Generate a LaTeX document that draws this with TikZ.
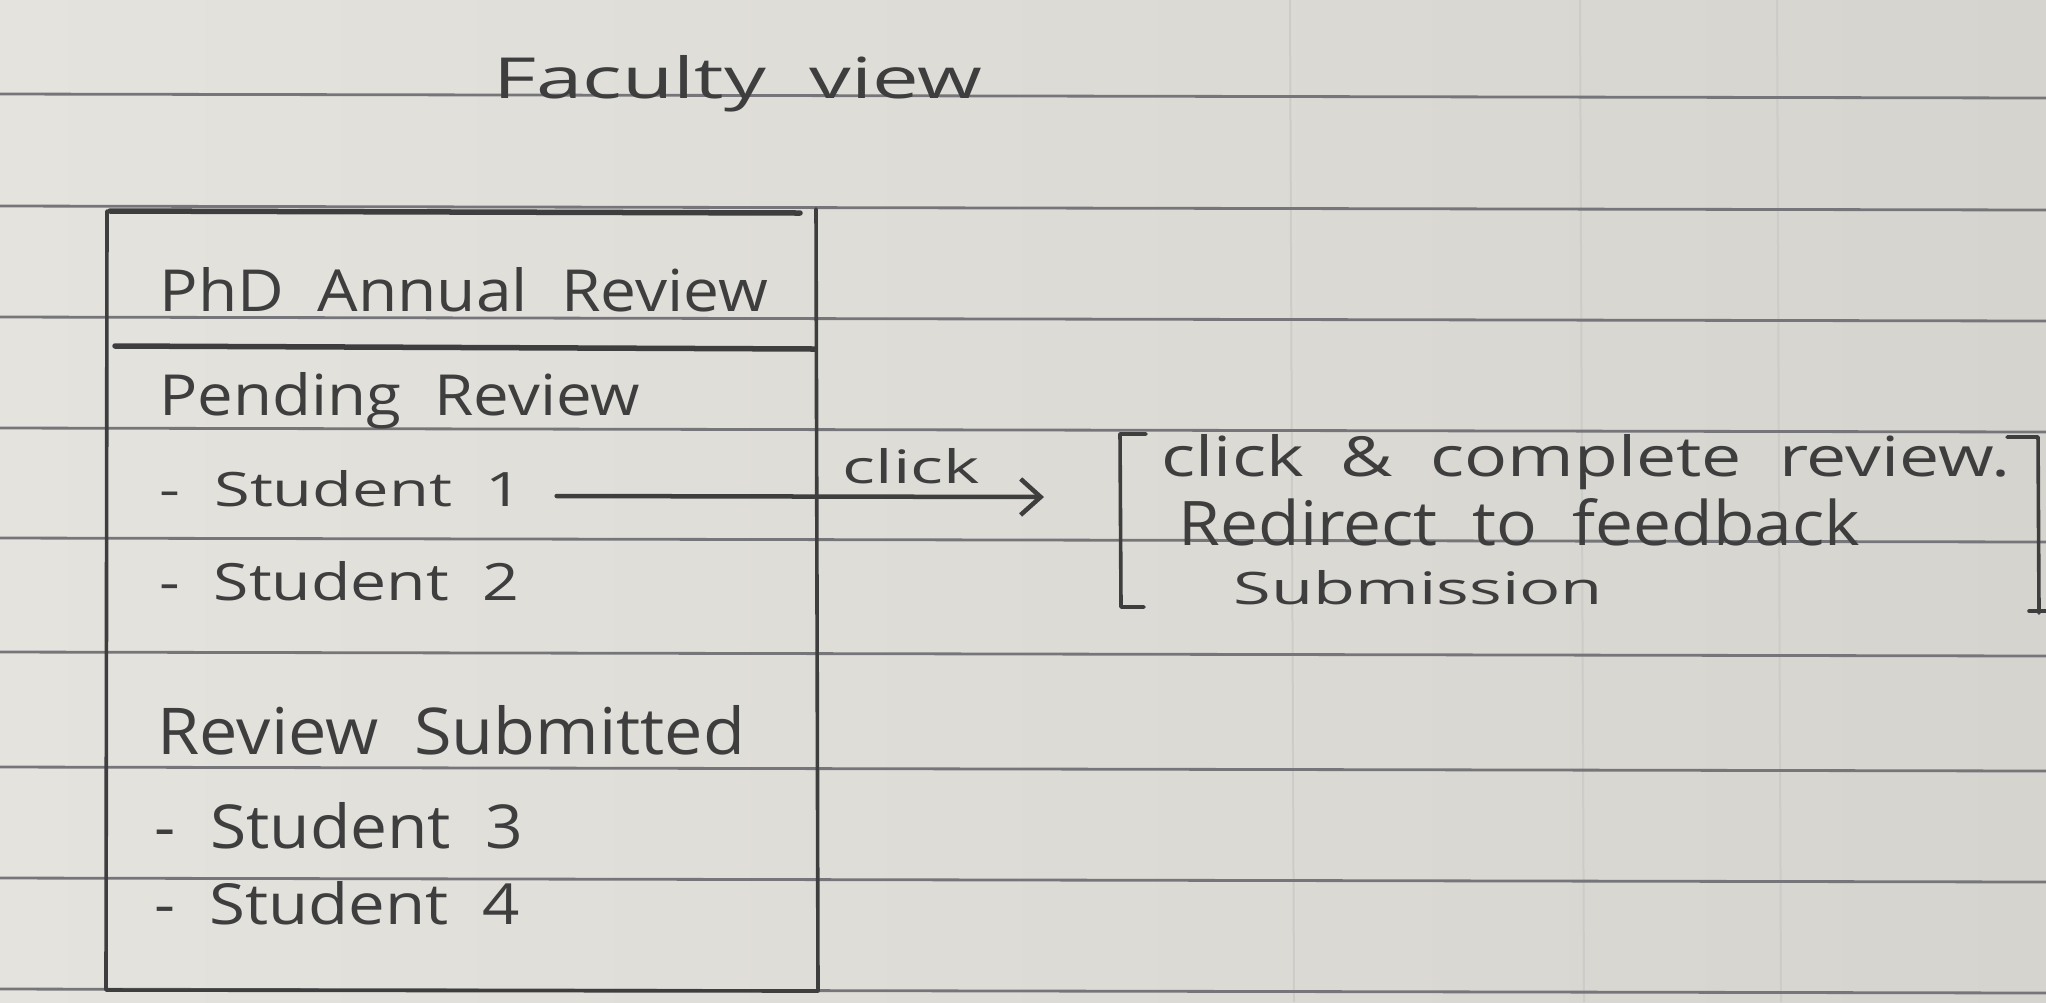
\documentclass[tikz,border=0pt]{standalone}
\usepackage{fontspec}
\setmainfont{Open Sans}[WordSpace=2]
\usetikzlibrary{arrows.meta}
\definecolor{paperL}{RGB}{229,227,222}
\definecolor{paperR}{RGB}{214,212,207}
\definecolor{rulegray}{RGB}{118,118,122}
\definecolor{gridgray}{RGB}{205,204,200}
\definecolor{pencil}{RGB}{62,62,62}
% hand-lettered line: width and height (in mm) of the written text
\newcommand{\hw}[3]{\resizebox{#1mm}{#2mm}{#3}}
\tikzset{
  ruleline/.style={draw=rulegray, line width=0.28mm},
  gridline/.style={draw=gridgray, line width=0.2mm},
  boxline/.style={draw=pencil, line width=0.36mm, line cap=round, line join=round},
  heavyline/.style={draw=pencil, line width=0.55mm, line cap=round},
  hand/.style={inner sep=0pt, anchor=base west, text=pencil},
  arrowline/.style={draw=pencil, line width=0.45mm, line cap=round,
    -{Straight Barb[length=2mm, width=3.6mm, line width=0.45mm]}}
}
\begin{document}
\begin{tikzpicture}[x=0.01cm, y=-0.01cm]
  \useasboundingbox (0,0) rectangle (2046,1002);
  % paper
  \shade[left color=paperL, right color=paperR] (0,0) rectangle (2046,1002);
  \foreach \gx in {1290,1580,1777} \draw[gridline] (\gx,0) -- (\gx+4,1002);
  \foreach \ry in {94,206,317,428,538,652,767,878,989}
    \draw[ruleline] (0,\ry) -- (2046,\ry+4);

  % title
  \node[hand] (title) at (493,98) {\hw{48.8}{4.3}{Faculty view}};

  % faculty screen panel
  \draw[boxline] (107,211) -- (106,990) -- (818,991) -- (816,209);
  \draw[heavyline] (110,211) -- (800,213);
  \draw[heavyline] (115,346) -- (815,349);

  \node[hand] (hdr) at (159,311) {\hw{60.8}{4.4}{PhD Annual Review}};
  \node[hand] (pend) at (159,415) {\hw{48.0}{4.3}{Pending Review}};
  \node[hand] (s1) at (159,506) {\hw{36.3}{3.6}{- Student 1}};
  \node[hand] (s2) at (159,600) {\hw{35.9}{3.9}{- Student 2}};
  \node[hand] (subm) at (157,754) {\hw{58.7}{4.9}{Review Submitted}};
  \node[hand] (s3) at (154,848) {\hw{36.8}{4.6}{- Student 3}};
  \node[hand] (s4) at (154,924) {\hw{36.5}{4.3}{- Student 4}};

  % click action
  \coordinate (tip) at (1044,497);
  \draw[arrowline] ([xshift=3.3mm, yshift=1mm]s1.base east) -- (tip);
  \node[hand] (clk) at (842,483) {\hw{13.7}{3.5}{click}};

  % bracketed note
  \node[hand] (fb1) at (1161,476) {\hw{84.8}{4.2}{click \& complete review.}};
  \node[hand] (fb2) at (1178,545) {\hw{68.1}{4.7}{Redirect to feedback}};
  \node[hand] (fb3) at (1233,604) {\hw{36.9}{3.4}{Submission}};
  \draw[boxline] (1146,434) -- (1120,434) -- (1121,607) -- (1144,607);
  \draw[boxline] (2007,437) -- (2038,437) -- (2039,613);
  \draw[boxline] (2029,611) -- (2046,611);
\end{tikzpicture}
\end{document}
